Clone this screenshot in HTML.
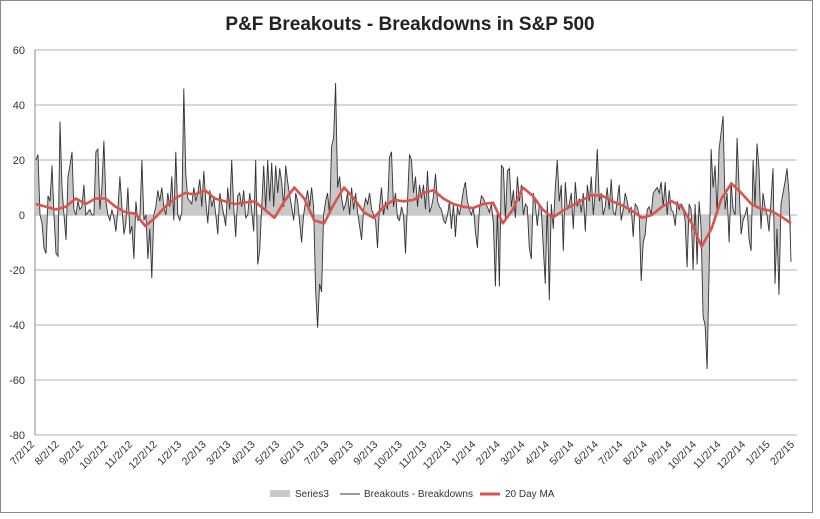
<!DOCTYPE html>
<html><head><meta charset="utf-8"><style>
body{margin:0;background:#fff;font-family:"Liberation Sans",sans-serif}
svg text{font-family:"Liberation Sans",sans-serif}
</style></head><body>
<svg id="chart" width="820" height="514" viewBox="0 0 820 514" xmlns="http://www.w3.org/2000/svg">
<rect x="0.5" y="0.5" width="812" height="512" fill="#fff" stroke="#8a8a8a"/>
<text x="410" y="30" text-anchor="middle" font-size="19" font-weight="bold" fill="#222">P&amp;F Breakouts - Breakdowns in S&amp;P 500</text>
<g id="grid"></g><g id="area"></g><g id="lines"></g><g id="axes"></g>
<g>
<rect x="270" y="490" width="20" height="7" fill="#c8c8c8"/>
<text x="295" y="497" font-size="10" fill="#333">Series3</text>
<line x1="340" y1="494" x2="360" y2="494" stroke="#333" stroke-width="1"/>
<text x="364" y="497" font-size="10" fill="#333">Breakouts - Breakdowns</text>
<line x1="480" y1="494" x2="500" y2="494" stroke="#d9534f" stroke-width="3"/>
<text x="505" y="497" font-size="10" fill="#333">20 Day MA</text>
</g>
</svg>
<script>
const yTicks=[60,40,20,0,-20,-40,-60,-80];
const xLabels=["7/2/12","8/2/12","9/2/12","10/2/12","11/2/12","12/2/12","1/2/13","2/2/13","3/2/13","4/2/13","5/2/13","6/2/13","7/2/13","8/2/13","9/2/13","10/2/13","11/2/13","12/2/13","1/2/14","2/2/14","3/2/14","4/2/14","5/2/14","6/2/14","7/2/14","8/2/14","9/2/14","10/2/14","11/2/14","12/2/14","1/2/15","2/2/15"];
const diffValues=[20,22,0,-3,-12,-14,7,5,18,0,-14,-15,34,10,0,-9,14,18,23,2,0,5,2,3,11,0,1,2,0,0,23,24,2,10,27,5,0,-2,2,-1,-6,2,14,3,-7,-3,10,-7,-4,-16,5,-2,-1,20,-2,0,-16,-5,-23,0,3,9,5,10,3,0,8,3,14,-2,23,0,-2,1,46,15,6,5,4,10,5,8,13,3,16,5,-3,9,3,6,0,-7,8,4,0,-4,10,2,20,3,-8,7,8,3,9,-1,0,8,2,-6,20,-18,-13,3,18,2,20,
5,19,3,18,8,17,12,3,18,12,7,3,-2,8,5,-3,-10,0,5,9,3,10,3,-27,-41,-25,-28,0,5,8,0,25,28,48,10,14,6,2,4,8,0,10,2,8,1,-4,-9,2,6,4,8,2,0,-2,-12,3,10,0,5,2,21,23,3,8,-1,-2,3,0,-14,5,22,20,8,14,3,11,6,11,2,16,1,3,7,15,5,3,2,-2,-3,0,5,-5,4,-8,3,0,4,9,12,5,2,0,3,-6,-12,2,7,6,4,3,1,4,-3,-26,2,-26,18,17,-2,16,17,3,9,-1,14,5,11,0,4,3,-12,-16,8,4,-4,
4,2,-12,-25,5,-31,4,-5,10,20,5,11,-13,12,2,4,8,-5,12,3,6,1,8,-6,11,5,14,0,9,24,5,8,0,3,10,2,13,1,0,5,11,-2,2,8,5,1,3,-8,4,3,0,-24,-10,-7,2,3,0,8,9,10,8,12,3,12,0,9,2,1,-4,5,2,4,3,-2,-19,4,2,-20,4,-18,5,-5,-37,-40,-56,-20,24,10,18,0,24,30,36,2,8,-10,12,2,0,28,10,-7,-2,0,3,-9,-13,20,3,26,17,-5,8,3,0,-6,5,17,-25,-5,-29,4,8,12,17,8,-17];
const maValues=[4,3,2,3,6,4,6,6,3,1,0.5,-4,-1,3,6,8,7.5,9,6,5,4,4.5,5,2,-1,5,10,6,-2,-3,4,10,6,1,-1,3,5.5,5,5.5,8,9,6,4,3,2.5,4,4.5,-3,2,10,7,2,-1,1.5,3.5,5.5,7.3,7,5,3.5,1.5,-1,0,3,5,3,-3,-11.5,-5,6,11.5,8,4,2.2,1.5,-0.5,-3];
const X0=35,X1=797,XD0=36,XD1=791,YTOP=50,YBOT=435,VMAX=60,VMIN=-80;
const yS=v=>YTOP+(VMAX-v)*(YBOT-YTOP)/(VMAX-VMIN);
const xS=(i,n)=>XD0+i*(XD1-XD0)/(n-1);
const NS="http://www.w3.org/2000/svg";
function mk(t,a,p){const e=document.createElementNS(NS,t);for(const k in a)e.setAttribute(k,a[k]);p.appendChild(e);return e;}
const grid=document.getElementById('grid'),axes=document.getElementById('axes'),area=document.getElementById('area'),lines=document.getElementById('lines');
yTicks.forEach(v=>{
 const g=mk('line',{x1:X0,x2:X1,y1:yS(v),y2:yS(v),stroke:'#b0b0b0','stroke-width':1},grid);
 
 
 const t=mk('text',{x:X0-10,y:yS(v)+4,'text-anchor':'end','font-size':11,fill:'#333'},axes);
 t.textContent=v;
 
 
});
const ax=mk('line',{x1:X0,x2:X0,y1:YTOP,y2:YBOT,stroke:'#888'},axes);


xLabels.forEach((l,i)=>{
 const x=X0+i*(XD1-X0+4)/(xLabels.length-1);
 const t=mk('text',{x:x,y:445,'text-anchor':'end','font-size':10.5,fill:'#333',transform:`rotate(-45 ${x} 445)`},axes);
 t.textContent=l;
 
 
});
const n=diffValues.length;
let pts=diffValues.map((v,i)=>xS(i,n).toFixed(1)+','+yS(v).toFixed(1));
const ar=mk('polygon',{points:xS(0,n)+','+yS(0)+' '+pts.join(' ')+' '+xS(n-1,n)+','+yS(0),fill:'#c8c8c8'},area);


const ln=mk('polyline',{points:pts.join(' '),fill:'none',stroke:'#333','stroke-width':0.9},lines);


const m=maValues.length;
const ma=mk('polyline',{points:maValues.map((v,i)=>xS(i,m).toFixed(1)+','+yS(v).toFixed(1)).join(' '),fill:'none',stroke:'#d9534f','stroke-width':2.6,'stroke-linejoin':'round'},lines);


</script>
</body></html>
